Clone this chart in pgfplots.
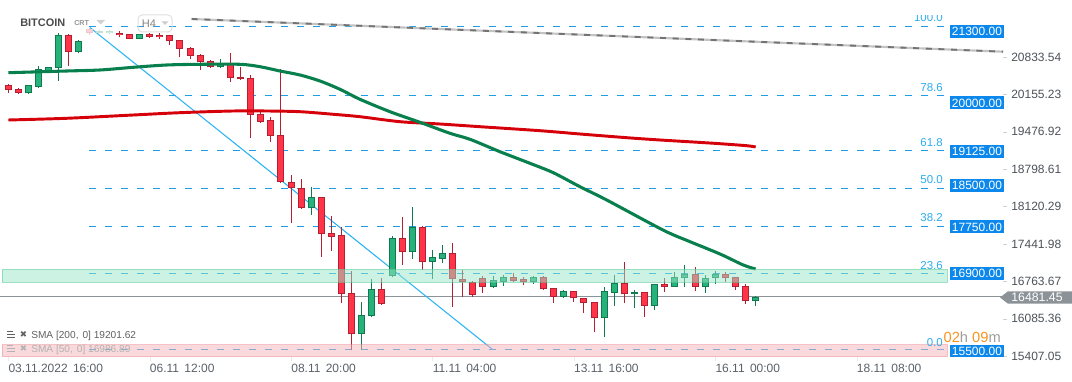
\documentclass[border=0pt]{standalone}
\usepackage{pgfplots}
\usepackage{pgfplotstable}
\pgfplotsset{compat=1.18}
\usepackage{fontspec}
\setmainfont{Liberation Sans}
\newfontfamily\dejavu{DejaVu Sans}
\definecolor{gfill}{RGB}{38,178,122}
\definecolor{gborder}{RGB}{14,122,78}
\definecolor{rfill}{RGB}{255,52,72}
\definecolor{rborder}{RGB}{180,32,50}
\definecolor{smagreen}{RGB}{8,128,78}
\definecolor{smared}{RGB}{214,0,10}
\definecolor{fibblue}{RGB}{30,158,232}
\definecolor{fibtxt}{RGB}{45,172,238}
\definecolor{diag}{RGB}{45,180,245}
\definecolor{pricebox}{RGB}{12,136,236}
\definecolor{zgreen}{RGB}{155,231,201}
\definecolor{zgreenb}{RGB}{80,200,150}
\definecolor{zpink}{RGB}{245,181,185}
\definecolor{zpinkb}{RGB}{235,140,145}
\definecolor{curline}{RGB}{140,147,152}
\definecolor{ylab}{RGB}{77,83,90}
\definecolor{xlab}{RGB}{90,97,105}
\definecolor{trendl}{RGB}{195,195,195}
\definecolor{trendd}{RGB}{115,115,115}
\definecolor{orangec}{RGB}{247,148,30}

\pgfplotstableread{
i O H L C
2 20174.9 20325 20162 20320.1
3 20294.7 20670.2 20271.1 20610.4
4 20585 20661 20561.4 20646.6
5 20628.5 21263.5 20403.5 21227.2
7 20918.8 21141.9 20900.6 21129.2
13 21160 21255 21155 21250.7
21 20646.6 20791.8 20634 20706.5
30 18088.6 18480.5 17967.1 18288.2
35 15802.7 16394.2 15517.9 16152.9
36 16134.7 16806 16117 16619.1
38 16860.4 17586 16842 17544.3
40 17290.3 18117.6 17168.8 17754.8
42 17109 17332.1 16800 17199.7
43 17174.3 17422.8 17090.8 17272.3
48 16666.3 16860 16648 16787.8
49 16757 16878.6 16679 16836.8
52 16757 16860 16715 16836.8
55 16484.9 16606 16470 16582.8
59 16093 16655.4 15748.3 16582.8
60 16546.5 16878.6 16321.6 16727.9
62 16528.4 16606 16285.3 16564.6
64 16321.6 16716 16243.6 16709.8
66 16666.3 16938.4 16661 16836.8
67 16818.6 17060 16666.3 16893
69 16666.3 16878.6 16557.4 16818.6
70 16818.6 16951.1 16709.8 16891.2
74 16412.4 16497 16321.6 16484.9
}\greenc

\pgfplotstableread{
i O H L C
0 20320.1 20334.6 20180.4 20234.8
1 20247.5 20262 20162.3 20185.8
6 21227.2 21241.7 20675.7 20929.7
11 21274.4 21305.2 21190.9 21227.2
12 21245.3 21250 21155 21160
14 21250.7 21259.8 21183.7 21201.8
15 21232.6 21274.4 21154.6 21190.9
16 21232.6 21236 21051.2 21118.3
17 21136.5 21141.9 20828.1 20973.2
18 20991.3 21005.9 20791.8 20851.6
19 20869.8 20879 20597.7 20737.4
20 20760.9 20779 20628.5 20646.6
22 20724.7 20900.6 20385.4 20447
23 20465.2 20657.5 20416.2 20428.9
24 20447 20507 19364 19781.3
25 19794 19841.2 19641.6 19659.7
26 19690.6 19750.4 19296.9 19400.3
27 19418.4 20615.8 18547.6 18571.2
28 18571.2 18692.8 17827.4 18451.5
29 18451.5 18614.7 18075.9 18088.6
31 18288.2 18299 17210.5 17616.9
32 17635.1 17949 17319.4 17573.4
33 17604.2 17754.8 16376 16528.4
34 16546.5 16951.1 15517.9 15802.7
37 16619.1 16818.6 16334 16352.4
39 17544.3 17936.2 17060 17290.3
41 17754.8 17767 16969.3 17109
44 17272.3 17453.7 16303.5 16800.5
45 16800.5 16969.3 16484.9 16757
46 16757 16770 16484.9 16515.7
47 16818.6 16860 16557.4 16666.3
50 16836.8 16909.4 16757 16775.1
51 16806 16842 16697.1 16757
53 16836.8 16860 16606 16619.1
54 16637.2 16651 16376 16484.9
56 16582.8 16588 16394.2 16455.8
57 16461.5 16465 16183.9 16365.1
58 16383.3 16388 15849.9 16093
61 16727.9 17119.9 16376 16528.4
63 16564.6 16570 16122 16321.6
65 16709.8 16829.5 16575.6 16666.3
68 16891.2 17018.2 16593.7 16666.3
71 16891.2 16927.5 16757 16818.6
72 16836.8 16842 16606.4 16655.4
73 16679 16715.3 16352.4 16412.4
}\redc

\pgfplotstableread{
i O H L C
8 21336 21380 21232.6 21263.5
}\redfaded

\pgfplotstableread{
i O H L C
9 21274.4 21320 21265 21310.6
10 21263.5 21320 21255 21310.6
}\greenfaded

\pgfplotsset{
  cndl/.style 2 args={draw=none, mark=none, forget plot,
    error bars/y dir=plus, error bars/y explicit, error bars/error mark=none,
    error bars/error bar style={line width=#2, color=#1, draw=#1, solid}},
  cinner/.style 2 args={draw=none, mark=none, forget plot,
    error bars/y dir=plus, error bars/y explicit, error bars/error mark=none,
    error bars/error bar style={line width=#2, color=#1, draw=#1, solid, shorten <=0.75pt, shorten >=0.75pt}},
}

\begin{document}
\begin{tikzpicture}
\useasboundingbox (0,0) rectangle (804pt,286.5pt);
\fill[white] (0,0) rectangle (804pt,286.5pt);
\begin{axis}[
  at={(0pt,18.75pt)}, anchor=south west,
  scale only axis, width=752.25pt, height=267.75pt,
  xmin=-0.822, xmax=98.49, ymin=15390.9, ymax=21867.6,
  axis line style={draw=none},
  clip=true,
  xtick={0,14,28,42,56,70,84},
  xticklabels={03.11.2022\hspace{4pt}16:00, 06.11\hspace{4pt}12:00, 08.11\hspace{4pt}20:00, 11.11\hspace{4pt}04:00, 13.11\hspace{4pt}16:00, 16.11\hspace{4pt}00:00, 18.11\hspace{4pt}08:00},
  ytick={15407.05,16085.36,16763.67,17441.98,18120.29,18798.61,19476.92,20155.23,20833.54},
  yticklabels={15407.05,16085.36,16763.67,17441.98,18120.29,18798.61,19476.92,20155.23,20833.54},
  xtick pos=bottom, ytick pos=right, yticklabel pos=right,
  tick align=outside,
  major tick length=3pt,
  x tick style={draw=black!8},
  y tick style={draw=black!18},
  tick label style={font=\fontsize{9}{10}\selectfont},
  xticklabel style={anchor=north west, inner sep=0pt, yshift=-2.5pt, text=xlab},
  yticklabel style={anchor=west, inner sep=0pt, xshift=3pt, text=ylab},
]
% fibonacci levels
\foreach \lv in {21380,20126,19141.5,18450,17758.5,16903,15520}{
  \edef\temp{\noexpand\addplot[forget plot, color=fibblue, line width=0.75pt, dash pattern=on 5.5pt off 6.5pt] coordinates {(8,\lv) (92.85,\lv)};}
  \temp
}
% trend line
\addplot[forget plot, color=trendl, line width=1.6pt] coordinates {(18.16,21522.9) (98.49,20929.7)};
\addplot[forget plot, color=trendd, line width=1.4pt, dash pattern=on 4.5pt off 5pt] coordinates {(18.16,21522.9) (98.49,20929.7)};
% current price line
\addplot[forget plot, color=curline, line width=0.8pt] coordinates {(-0.822,16481.45) (98.49,16481.45)};
% diagonal
\addplot[forget plot, color=diag, line width=0.8pt] coordinates {(8,21380) (48,15520)};
% candles: wicks
\addplot[cndl={gborder}{0.75pt}] table[x=i,y=L,y error plus expr=\thisrow{H}-\thisrow{L}]{\greenc};
\addplot[cndl={rborder}{0.75pt}] table[x=i,y=L,y error plus expr=\thisrow{H}-\thisrow{L}]{\redc};
% bodies
\addplot[cndl={gborder}{5.25pt}] table[x=i,y=O,y error plus expr=\thisrow{C}-\thisrow{O}]{\greenc};
\addplot[cinner={gfill}{3.75pt}] table[x=i,y=O,y error plus expr=\thisrow{C}-\thisrow{O}]{\greenc};
\addplot[cndl={rborder}{5.25pt}] table[x=i,y=C,y error plus expr=\thisrow{O}-\thisrow{C}]{\redc};
\addplot[cinner={rfill}{3.75pt}] table[x=i,y=C,y error plus expr=\thisrow{O}-\thisrow{C}]{\redc};
% faded candles under header
\addplot[cndl={gborder!25}{0.75pt}] table[x=i,y=L,y error plus expr=\thisrow{H}-\thisrow{L}]{\greenfaded};
\addplot[cndl={rborder!25}{0.75pt}] table[x=i,y=L,y error plus expr=\thisrow{H}-\thisrow{L}]{\redfaded};
\addplot[cndl={gborder!25}{5.25pt}] table[x=i,y=O,y error plus expr=\thisrow{C}-\thisrow{O}]{\greenfaded};
\addplot[cinner={gfill!22}{3.75pt}] table[x=i,y=O,y error plus expr=\thisrow{C}-\thisrow{O}]{\greenfaded};
\addplot[cndl={rborder!25}{5.25pt}] table[x=i,y=C,y error plus expr=\thisrow{O}-\thisrow{C}]{\redfaded};
\addplot[cinner={rfill!22}{3.75pt}] table[x=i,y=C,y error plus expr=\thisrow{O}-\thisrow{C}]{\redfaded};
% SMA 200
\addplot[forget plot, smooth, color=smared, line width=2.2pt] coordinates {
(0,19690.6) (5.78,19721.5) (12.38,19781.3) (17.0,19823.1) (22.28,19853.9) (25.58,19853.9) (28.88,19841.2) (32.18,19794) (34.82,19750.4) (38.78,19659.7) (42.74,19618) (46.7,19569) (52.64,19496.5) (56.6,19436.6) (61.23,19369.5) (64.53,19327.7) (67.82,19291.4) (70.47,19260.6) (73.1,19224.3) (74,19201.6)};
% SMA 50
\addplot[forget plot, smooth, color=smagreen, line width=2.3pt] coordinates {
(0,20548.7) (5.78,20579.5) (9.08,20597.7) (12.38,20646.6) (15.68,20688.4) (18.98,20701) (22.94,20701) (24.92,20657.5) (26.9,20579.5) (28.88,20507) (30.86,20398.1) (32.84,20247.5) (34.82,20066.1) (37.79,19841.2) (40.76,19648.8) (43.73,19449.3) (45.71,19340.4) (48.68,19115.4) (51.65,18905) (53.96,18734.5) (56.6,18480.5) (59.25,18239.2) (64.82,17695) (67.5,17482.7) (70.47,17259.5) (72.77,17060) (74,16987)};
% zones
\addplot[forget plot, fill=zgreen, fill opacity=0.5, draw=zgreenb, draw opacity=0.5, line width=0.75pt] coordinates {(-0.62,16746) (92.97,16746) (92.97,16982) (-0.62,16982) (-0.62,16746)};
\addplot[forget plot, fill=zpink, fill opacity=0.5, draw=zpinkb, draw opacity=0.5, line width=0.75pt] coordinates {(-0.62,15396.3) (92.97,15396.3) (92.97,15608.6) (-0.62,15608.6) (-0.62,15396.3)};
\end{axis}

\begin{scope}[x=0.75pt,y=-0.75pt,yshift=286.5pt]
% price boxes
\foreach \yc/\txt in {31.3/21300.00,102.9/20000.00,151.2/19125.00,185.6/18500.00,227/17750.00,273.8/16900.00}{
  \fill[pricebox] (950,\yc-6.5) rectangle (1004,\yc+6.5);
  \node[text=white, inner sep=0pt, font=\fontsize{9}{10}\selectfont] at (977,\yc) {\txt};
}
\fill[pricebox] (950,345) rectangle (1004,357);
\node[text=white, inner sep=0pt, font=\fontsize{9}{10}\selectfont] at (977,351.5) {15500.00};
% fib labels
\foreach \yc/\txt in {88/78.6,143/61.8,180/50.0,218/38.2,266/23.6,343/0.0}{
  \node[anchor=east, inner sep=0pt, text=fibtxt, font=\fontsize{8.6}{10}\selectfont] at (943,\yc) {\txt};
}
\begin{scope}
\clip (850,15.5) rectangle (950,40);
\node[anchor=east, inner sep=0pt, text=fibtxt, font=\fontsize{8.6}{10}\selectfont] at (943,17.5) {100.0};
\end{scope}
% current price label
\fill[curline] (1000,297.5) -- (1008,291.3) -- (1072,291.3) -- (1072,303.7) -- (1008,303.7) -- cycle;
\node[text=white, inner sep=0pt, font=\fontsize{9.2}{10}\selectfont] at (1037,297.5) {16481.45};
% countdown
\node[anchor=east, inner sep=0pt, font=\fontsize{11}{12}\selectfont] at (1001,337) {\textcolor{orangec}{02}\textcolor{black!38}{h} \textcolor{orangec}{09}\textcolor{black!38}{m}};
% header
\node[anchor=west, inner sep=0pt, text=black!70, font=\bfseries\fontsize{8.2}{10}\selectfont] at (20,23) {BITCOIN};
\node[anchor=west, inner sep=0pt, text=black!42, font=\bfseries\fontsize{5.4}{7}\selectfont] at (74,23.5) {CRT};
\fill[black!18] (96.5,20) -- (105,20) -- (100.75,24.5) -- cycle;
\draw[black!12, line width=0.75pt, rounded corners=3pt] (138,15) rectangle (172,32);
\node[anchor=west, inner sep=0pt, text=black!48, font=\fontsize{8.3}{10}\selectfont] at (141.5,23.5) {H4};
\fill[black!20] (161.5,21.5) -- (168.5,21.5) -- (165,25) -- cycle;
% legend
\foreach \yy/\cc/\txt in {335.5/black!62/{SMA [200,\hspace{3pt}0] 19201.62},349.5/black!30/{SMA [50,\hspace{3pt}0] 16986.89}}{
  \draw[\cc, line width=1.1pt] (7,\yy-4) -- (13,\yy-4) (7,\yy-1) -- (15,\yy-1) (7,\yy+2) -- (15,\yy+2);
  \node[inner sep=0pt, text=\cc, font=\dejavu\fontsize{6.5}{7}\selectfont] at (23.5,\yy-1) {✖};
  \node[anchor=west, inner sep=0pt, text=\cc, font=\fontsize{7.6}{9}\selectfont] at (31,\yy) {\txt};
}
\end{scope}
\end{tikzpicture}
\end{document}
